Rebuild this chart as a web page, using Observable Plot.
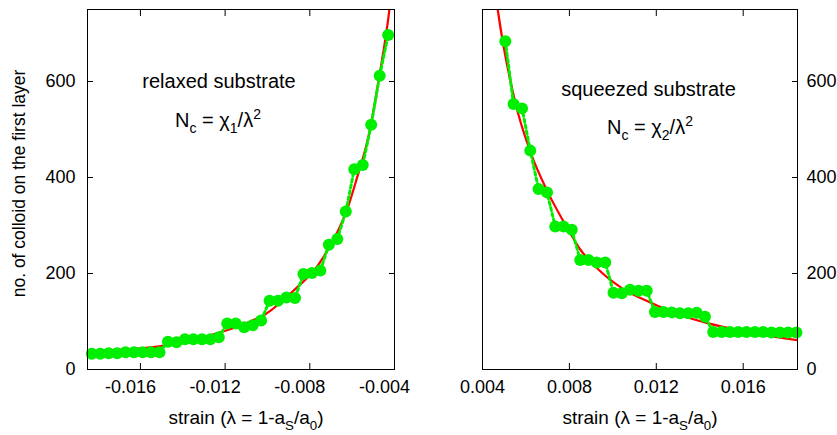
<!DOCTYPE html>
<html><head><meta charset="utf-8">
<script src="https://cdn.jsdelivr.net/npm/d3@7"></script>
<script src="https://cdn.jsdelivr.net/npm/@observablehq/plot@0.6"></script>
<style>
body{margin:0;background:#fff;}
#chart{position:relative;width:837px;height:435px;font-family:"Liberation Sans",Arial,Helvetica,sans-serif;background:#fff;}
#chart svg{position:absolute;top:0;}
</style></head><body><div id="chart"></div>
<script>
// ---- relaxed substrate (left panel) ----
const leftStrain = [-0.0183,-0.0179,-0.0175,-0.0171,-0.0167,-0.0163,-0.0159,-0.0155,-0.0151,-0.0147,-0.0143,-0.0139,-0.0135,-0.0131,-0.0127,-0.0123,-0.0119,-0.0115,-0.0111,-0.0107,-0.0103,-0.0099,-0.0095,-0.0091,-0.0087,-0.0083,-0.0079,-0.0075,-0.0071,-0.0067,-0.0063,-0.0059,-0.0055,-0.0051,-0.0047,-0.0043];
const leftCount = [33,33,34,34,36,36,36,36,36,58,57,63,63,63,63,67,96,96,88,92,102,143,143,150,149,199,201,206,260,272,329,417,426,510,612,697];
const leftFitStrain = [-0.0185,-0.0170,-0.0153,-0.0138,-0.0125,-0.0111,-0.0101,-0.0088,-0.0076,-0.0069,-0.0062,-0.0058,-0.0052,-0.0047,-0.00424,-0.0040];
const leftFitCount = [37,41,47,60,74,95,115,163,218,269,338,395,491,615,750,850];

// ---- squeezed substrate (right panel) ----
const rightStrain = [0.00505,0.00543,0.00582,0.00620,0.00658,0.00697,0.00735,0.00773,0.00811,0.00850,0.00888,0.00926,0.00965,0.01003,0.01041,0.01079,0.01118,0.01156,0.01194,0.01233,0.01271,0.01309,0.01347,0.01386,0.01424,0.01462,0.01501,0.01539,0.01577,0.01615,0.01654,0.01692,0.01730,0.01769,0.01807,0.01845];
const rightCount = [684,553,544,456,376,369,298,298,291,228,228,223,223,160,159,166,164,164,120,120,119,117,117,118,110,78,78,78,78,78,78,78,77,77,77,77];
const rightFitStrain = [0.0045,0.0047,0.0055,0.0062,0.0070,0.0079,0.0085,0.0093,0.0104,0.0118,0.0130,0.0144,0.0160,0.0172,0.0185,0.0190];
const rightFitCount = [820,750,558,454,370,295,250,210,170,138,115,96,80,70,61,58];

// ---- axes ----
const yTicks = [0,200,400,600];
const leftXTicks = [-0.016,-0.012,-0.008,-0.004];
const rightXTicks = [0.004,0.008,0.012,0.016];

const GREEN = "#00ee00";
const RED = "#ff0000";
const FONT = "'Liberation Sans', Arial, Helvetica, sans-serif";

function panel({strain, count, fitS, fitC, xDomain, xTicks, width, ml, mr, side, dxLabel}) {
  const pts = strain.map((x, i) => ({x, y: count[i]}));
  const fit = fitS.map((x, i) => ({x, y: fitC[i]}));
  const marks = [
    Plot.line(fit, {x: "x", y: "y", stroke: RED, strokeWidth: 2.2, curve: "monotone-x", clip: true}),
    Plot.line(pts, {x: "x", y: "y", stroke: GREEN, strokeWidth: 3, strokeDasharray: "3,3"}),
    Plot.dot(pts, {x: "x", y: "y", r: 6, fill: GREEN, stroke: "none"}),
    Plot.frame({stroke: "black", strokeWidth: 1}),
    Plot.axisX({anchor: "bottom", ticks: xTicks, tickSize: 0, tickPadding: 11, dx: dxLabel, tickFormat: d => d.toFixed(3), label: null, fontSize: 18}),
    Plot.axisX({anchor: "bottom", ticks: xTicks, tickSize: -6, tickFormat: () => "", label: null}),
    Plot.axisX({anchor: "top", ticks: xTicks, tickSize: -6, tickFormat: () => "", label: null}),
    Plot.axisY({anchor: side, ticks: yTicks, tickSize: 0, tickPadding: side === "left" ? 12 : 9, tickFormat: d => String(d), label: null, fontSize: 18}),
    Plot.axisY({anchor: "right", ticks: yTicks, tickSize: -6, tickFormat: () => "", label: null})
  ];
  if (side === "left") marks.push(Plot.axisY({anchor: "left", ticks: yTicks, tickSize: -6, tickFormat: () => "", label: null}));
  return Plot.plot({
    width, height: 435,
    marginLeft: ml, marginRight: mr, marginTop: 9, marginBottom: 66,
    style: {fontFamily: FONT, fontSize: "18px", color: "black", background: "transparent", overflow: "visible"},
    x: {domain: xDomain},
    y: {domain: [0, 750]},
    marks
  });
}

function addText(svg, x, y, parts, size, anchor = "middle", transform = null) {
  const t = d3.select(svg).append("text")
    .attr("x", x).attr("y", y)
    .attr("text-anchor", anchor)
    .attr("font-family", FONT)
    .attr("font-size", size)
    .attr("fill", "black");
  if (transform) t.attr("transform", transform).attr("x", 0).attr("y", 0);
  let cur = 0;
  for (const [s, kind] of parts) {
    const target = kind === "sub" ? size * 0.3 : kind === "sup" ? -size * 0.42 : 0;
    const ts = t.append("tspan").text(s).attr("dy", target - cur);
    if (kind) ts.attr("font-size", size * 0.7);
    cur = target;
  }
  return t;
}

const chart = document.getElementById("chart");

const left = panel({strain: leftStrain, count: leftCount, fitS: leftFitStrain, fitC: leftFitCount,
  xDomain: [-0.0185, -0.004], xTicks: leftXTicks, width: 410, ml: 87, mr: 16, side: "left", dxLabel: -10});
left.style.left = "0px";
chart.appendChild(left);

const right = panel({strain: rightStrain, count: rightCount, fitS: rightFitStrain, fitC: rightFitCount,
  xDomain: [0.004, 0.0185], xTicks: rightXTicks, width: 427, ml: 72, mr: 40, side: "right", dxLabel: 0});
right.style.left = "410px";
chart.appendChild(right);

// titles
addText(left, 0, 0, [["no. of colloid on the first layer", null]], 17.5, "middle", "translate(25,183.5) rotate(-90)");
const xTitle = [["strain (λ = 1-a", null], ["S", "sub"], ["/a", null], ["0", "sub"], [")", null]];
addText(left, 246, 424, xTitle, 19);
addText(right, 230, 424, xTitle, 19);

// annotations
addText(left, 219, 88, [["relaxed substrate", null]], 20);
addText(left, 218, 127, [["N", null], ["c", "sub"], [" = χ", null], ["1", "sub"], ["/λ", null], ["2", "sup"]], 20);
addText(right, 238.5, 96, [["squeezed substrate", null]], 20);
addText(right, 240, 134, [["N", null], ["c", "sub"], [" = χ", null], ["2", "sub"], ["/λ", null], ["2", "sup"]], 20);
</script></body></html>
